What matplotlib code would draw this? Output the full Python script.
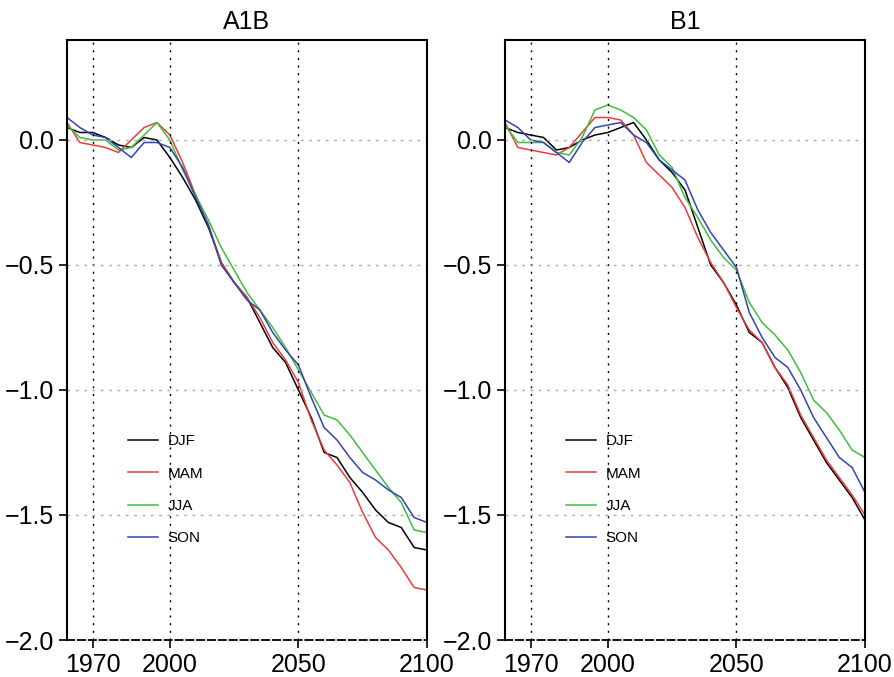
import matplotlib
matplotlib.use("Agg")
import matplotlib.pyplot as plt
import numpy as np

plt.rcParams['font.family'] = ['Liberation Sans', 'DejaVu Sans']

years = np.arange(1960, 2101, 5)

# A1B scenario
a1b_djf = [0.05, 0.03, 0.03, 0.01, -0.02, -0.03, 0.01, 0.00, -0.07, -0.15, -0.24, -0.35, -0.49, -0.57, -0.63,
           -0.73, -0.83, -0.89, -1.00, -1.11, -1.25, -1.27, -1.35, -1.41, -1.48, -1.53, -1.55, -1.63, -1.64]
a1b_mam = [0.07, -0.01, -0.02, -0.03, -0.05, 0.00, 0.05, 0.07, 0.02, -0.09, -0.22, -0.34, -0.49, -0.57, -0.63,
           -0.71, -0.81, -0.88, -0.97, -1.12, -1.24, -1.30, -1.37, -1.49, -1.59, -1.64, -1.71, -1.79, -1.80]
a1b_jja = [0.06, 0.01, 0.00, 0.00, -0.04, -0.03, 0.02, 0.07, 0.00, -0.12, -0.22, -0.32, -0.43, -0.52, -0.61,
           -0.68, -0.75, -0.83, -0.92, -1.01, -1.10, -1.12, -1.18, -1.25, -1.32, -1.39, -1.45, -1.56, -1.57]
a1b_son = [0.09, 0.05, 0.02, 0.01, -0.03, -0.07, -0.01, -0.01, -0.03, -0.11, -0.23, -0.34, -0.50, -0.57, -0.64,
           -0.68, -0.77, -0.84, -0.90, -1.03, -1.15, -1.20, -1.27, -1.33, -1.36, -1.40, -1.43, -1.51, -1.53]

# B1 scenario
b1_djf = [0.05, 0.03, 0.02, 0.01, -0.04, -0.03, 0.00, 0.02, 0.03, 0.05, 0.07, 0.00, -0.08, -0.13, -0.20,
          -0.35, -0.50, -0.57, -0.66, -0.77, -0.81, -0.91, -0.99, -1.11, -1.20, -1.29, -1.36, -1.43, -1.52]
b1_mam = [0.07, -0.03, -0.04, -0.05, -0.06, -0.03, 0.03, 0.09, 0.09, 0.08, 0.02, -0.09, -0.14, -0.19, -0.27,
          -0.39, -0.49, -0.57, -0.67, -0.76, -0.81, -0.91, -0.98, -1.10, -1.19, -1.28, -1.35, -1.42, -1.50]
b1_jja = [0.06, -0.01, -0.01, -0.01, -0.05, -0.06, 0.01, 0.12, 0.14, 0.12, 0.09, 0.04, -0.06, -0.11, -0.23,
          -0.31, -0.40, -0.47, -0.52, -0.65, -0.73, -0.78, -0.84, -0.93, -1.04, -1.09, -1.16, -1.24, -1.27]
b1_son = [0.08, 0.05, 0.00, -0.01, -0.05, -0.09, -0.01, 0.05, 0.06, 0.07, 0.02, -0.01, -0.08, -0.12, -0.16,
          -0.28, -0.37, -0.44, -0.51, -0.69, -0.79, -0.87, -0.91, -1.00, -1.11, -1.19, -1.27, -1.31, -1.41]

seasons = ['DJF', 'MAM', 'JJA', 'SON']
colors = ['black', '#ee3a3a', '#3cbf3c', '#3344b0']
panels = [('A1B', [a1b_djf, a1b_mam, a1b_jja, a1b_son]),
          ('B1', [b1_djf, b1_mam, b1_jja, b1_son])]

xticks = [1970, 2000, 2050, 2100]
yticks = [0.0, -0.5, -1.0, -1.5, -2.0]

fig = plt.figure(figsize=(8.95, 6.77), dpi=100)
lefts = [67 / 895, 505 / 895]

for left, (title, series) in zip(lefts, panels):
    ax = fig.add_axes([left, 37 / 677, 360 / 895, 600 / 677])
    for vals, c, lab in zip(series, colors, seasons):
        ax.plot(years, vals, color=c, lw=1.1, label=lab)

    ax.set_xlim(1960, 2100)
    ax.set_ylim(-2.0, 0.4)
    ax.set_xticks(xticks)
    ax.set_yticks(yticks)
    ax.set_yticklabels([('%.1f' % v).replace('-', '\u2212') for v in yticks])
    ax.tick_params(labelsize=18, direction='out', length=6, width=1.2)

    for x in xticks[:-1]:
        ax.axvline(x, color='black', lw=1.0, ls=(0, (1.5, 4)))
    for y in yticks[:-1]:
        ax.axhline(y, color='#aaaaaa', lw=1.0, ls=(0, (2, 4)))

    for s in ['left', 'right', 'top']:
        ax.spines[s].set_linewidth(1.5)
    ax.spines['bottom'].set_linestyle((0, (4, 2)))
    ax.spines['bottom'].set_linewidth(1.3)

    ax.set_title(title, fontsize=18, pad=8)
    ax.legend(loc='lower left', bbox_to_anchor=(0.13, 0.135), frameon=False, fontsize=11,
              handlelength=2.0, labelspacing=1.2, handletextpad=0.6)

fig.savefig("out.png", dpi=100)
